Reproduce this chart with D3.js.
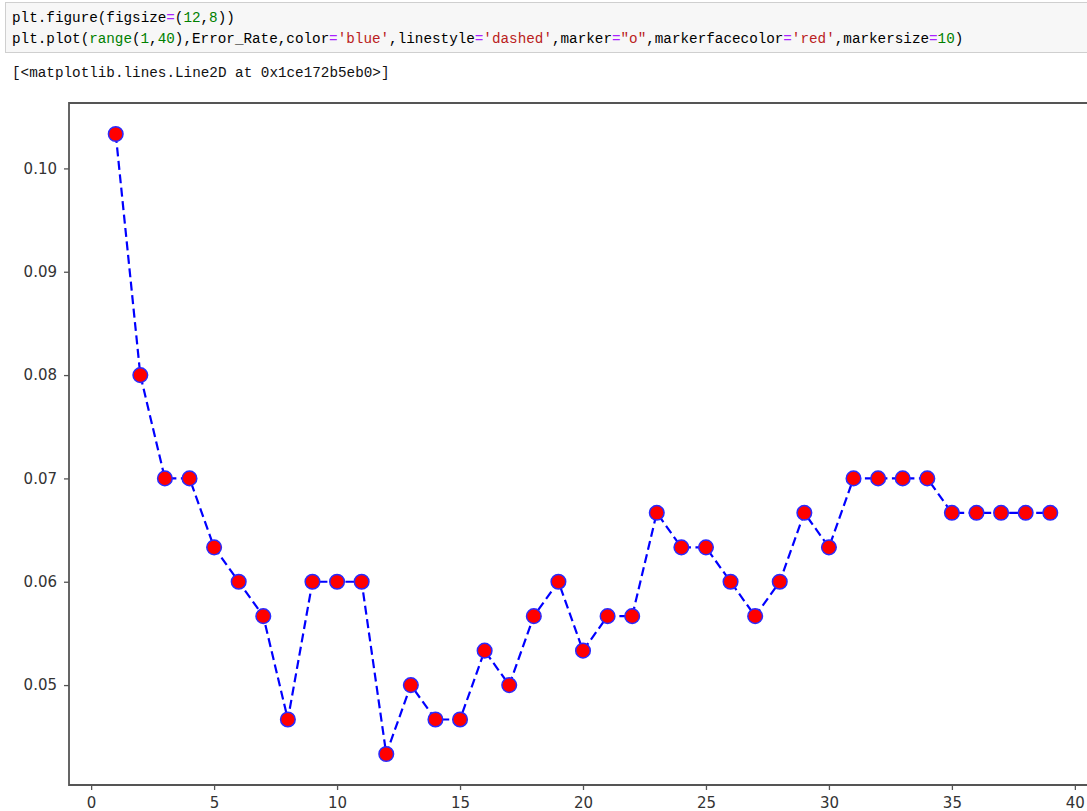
<!DOCTYPE html>
<html>
<head>
<meta charset="utf-8">
<script src="https://cdn.jsdelivr.net/npm/d3@7"></script>
<style>
  body { margin: 0; background: #fff; }
  svg { display: block; }
</style>
</head>
<body>
<div id="cell"></div>
<script>
var kValues = d3.range(1, 40);
var errorRate = [0.10333, 0.08, 0.07, 0.07, 0.06333, 0.06, 0.05667, 0.04667, 0.06, 0.06,
  0.06, 0.04333, 0.05, 0.04667, 0.04667, 0.05333, 0.05, 0.05667, 0.06, 0.05333,
  0.05667, 0.05667, 0.06667, 0.06333, 0.06333, 0.06, 0.05667, 0.06, 0.06667, 0.06333,
  0.07, 0.07, 0.07, 0.07, 0.06667, 0.06667, 0.06667, 0.06667, 0.06667];
var xTicks = [0, 5, 10, 15, 20, 25, 30, 35, 40];
var yTicks = [0.05, 0.06, 0.07, 0.08, 0.09, 0.10];

// code cell tokens: [text, colour]
var codeLine1 = [["plt.figure(figsize", "#000"], ["=", "#aa22ff"], ["(", "#000"], ["12", "#008000"],
  [",", "#000"], ["8", "#008000"], ["))", "#000"]];
var codeLine2 = [["plt.plot(", "#000"], ["range", "#008000"], ["(", "#000"], ["1", "#008000"], [",", "#000"],
  ["40", "#008000"], ["),Error_Rate,color", "#000"], ["=", "#aa22ff"], ["'blue'", "#ba2121"],
  [",linestyle", "#000"], ["=", "#aa22ff"], ["'dashed'", "#ba2121"], [",marker", "#000"], ["=", "#aa22ff"],
  ["\"o\"", "#ba2121"], [",markerfacecolor", "#000"], ["=", "#aa22ff"], ["'red'", "#ba2121"],
  [",markersize", "#000"], ["=", "#aa22ff"], ["10", "#008000"], [")", "#000"]];
var outputText = "[<matplotlib.lines.Line2D at 0x1ce172b5eb0>]";

var W = 1087, H = 811;
var svg = d3.select("#cell").append("svg").attr("width", W).attr("height", H);

// code cell box
svg.append("rect").attr("x", 5.5).attr("y", 2.5).attr("width", W).attr("height", 50)
  .attr("fill", "#f7f7f7").attr("stroke", "#cfcfcf").attr("stroke-width", 1);

var mono = "'Liberation Mono', 'DejaVu Sans Mono', monospace";
var charW = 8.57;
function codeLine(tokens, y) {
  var t = svg.append("text").attr("x", 12).attr("y", y)
    .attr("font-family", mono).attr("font-size", "14.3px");
  var pos = 0;
  tokens.forEach(function(tk) {
    t.append("tspan").attr("x", 12 + pos * charW).attr("fill", tk[1]).text(tk[0]);
    pos += tk[0].length;
  });
}
codeLine(codeLine1, 22);
codeLine(codeLine2, 43);
svg.append("text").attr("x", 12).attr("y", 77)
  .attr("font-family", mono).attr("font-size", "14.3px").attr("fill", "#111")
  .text(outputText);

// plot area
var x = d3.scaleLinear().domain([-0.9, 40.9]).range([69, 1097]);
var y = d3.scaleLinear().domain([0.04033, 0.10633]).range([785, 103]);

var tickFont = "'DejaVu Sans', sans-serif";
var axisColor = "#555";

var xAxis = svg.append("g").attr("transform", "translate(0," + y.range()[0] + ")")
  .call(d3.axisBottom(x).tickValues(xTicks).tickSize(5).tickPadding(7).tickFormat(d3.format("d")));
var yAxis = svg.append("g").attr("transform", "translate(" + x.range()[0] + ",0)")
  .call(d3.axisLeft(y).tickValues(yTicks).tickSize(5).tickPadding(7).tickFormat(d3.format(".2f")));

[xAxis, yAxis].forEach(function(a) {
  a.select(".domain").remove();
  a.selectAll(".tick line").attr("stroke", axisColor).attr("stroke-width", 1.3);
  a.selectAll(".tick text").attr("fill", "#333").attr("font-family", tickFont).attr("font-size", "15px");
});

// spines (right one falls outside the picture)
svg.append("path")
  .attr("d", "M" + x.range()[1] + "," + y.range()[1] + "H" + x.range()[0] + "V" + y.range()[0] + "H" + x.range()[1])
  .attr("fill", "none").attr("stroke", axisColor).attr("stroke-width", 1.8);

var pts = kValues.map(function(k, i) { return [k, errorRate[i]]; });

svg.append("path").datum(pts)
  .attr("d", d3.line().x(function(d) { return x(d[0]); }).y(function(d) { return y(d[1]); }))
  .attr("fill", "none").attr("stroke", "#0000ff").attr("stroke-width", 2.2)
  .attr("stroke-dasharray", "9,4.5");

svg.append("g").selectAll("circle").data(pts).enter()
  .append("circle")
  .attr("cx", function(d) { return x(d[0]); })
  .attr("cy", function(d) { return y(d[1]); })
  .attr("r", 7.3)
  .attr("fill", "#ff0000")
  .attr("stroke", "#2a2aff").attr("stroke-width", 1.5);
</script>
</body>
</html>
